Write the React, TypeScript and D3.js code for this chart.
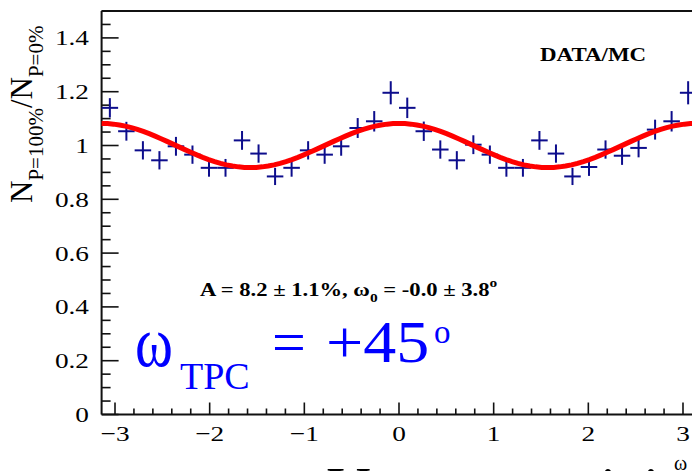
import React from "react";
import * as d3 from "d3";

// ---- data ----
const binCentersDeg = [
  -175, -165, -155, -145, -135, -125, -115, -105, -95, -85, -75, -65,
  -55, -45, -35, -25, -15, -5, 5, 15, 25, 35, 45, 55, 65, 75, 85, 95,
  105, 115, 125, 135, 145, 155, 165, 175,
];
const ratioValues = [
  1.14, 1.053, 0.982, 0.945, 0.997, 0.966, 0.917, 0.917, 1.019, 0.97, 0.885, 0.917,
  0.982, 0.966, 0.997, 1.065, 1.09, 1.196, 1.14, 1.053, 0.985, 0.945, 1.003, 0.966,
  0.917, 0.917, 1.019, 0.97, 0.885, 0.92, 0.985, 0.962, 0.991, 1.059, 1.09, 1.196,
];
const ratioErrors = [
  0.036, 0.035, 0.034, 0.034, 0.035, 0.034, 0.033, 0.033, 0.035, 0.034, 0.032, 0.033,
  0.034, 0.034, 0.035, 0.037, 0.038, 0.043, 0.038, 0.036, 0.034, 0.034, 0.035, 0.034,
  0.033, 0.033, 0.035, 0.034, 0.032, 0.033, 0.034, 0.034, 0.035, 0.037, 0.038, 0.043,
];
const fitAmplitude = 0.082; // A = 8.2 %
const fitOmega0 = 0.0; // omega_0
const xMajorTicks = [-3, -2, -1, 0, 1, 2, 3];
const yMajorTicks = [0, 0.2, 0.4, 0.6, 0.8, 1, 1.2, 1.4];
const yTickLabels = ["0", "0.2", "0.4", "0.6", "0.8", "1", "1.2", "1.4"];
const xTickLabels = ["\u22123", "\u22122", "\u22121", "0", "1", "2", "3"];

const W = 692;
const H = 471;
const STRETCH = 1.24;
const FONT = "Liberation Serif";
const BLUE_MARK = "#0d0d8c";

function st(size: number, extra: any = {}) {
  return { fontFamily: FONT, fontSize: size, ...extra };
}

function RText(props: {
  x: number;
  y: number;
  anchor?: string;
  size: number;
  bold?: boolean;
  children: React.ReactNode;
}) {
  const { x, y, anchor = "start", size, bold = false, children } = props;
  return (
    <g transform={`translate(${x},${y}) scale(${STRETCH},1)`}>
      <text
        x={0}
        y={0}
        style={st(size, { textAnchor: anchor, fontWeight: bold ? 700 : 400 })}
      >
        {children}
      </text>
    </g>
  );
}

export default function App() {
  const x = d3.scaleLinear().domain([-Math.PI, Math.PI]).range([101.6, 696.4]);
  const y = d3.scaleLinear().domain([0, 1.5]).range([414.5, 11]);

  const binHalf = (Math.PI / 180) * 5;
  const points = binCentersDeg.map((d, i) => ({
    x: (d * Math.PI) / 180,
    v: ratioValues[i],
    e: ratioErrors[i],
  }));

  const fitFn = (w: number) => 1 + fitAmplitude * Math.cos(2 * (w - fitOmega0));
  const samples = d3.range(0, 101).map((i) => -Math.PI + (i * 2 * Math.PI) / 100);
  const line = d3
    .line<number>()
    .x((w) => x(w))
    .y((w) => y(fitFn(w)));

  const xMinor = d3.range(-15, 16).map((i) => i * 0.2);
  const yMinor = d3.range(0, 31).map((i) => i * 0.05);

  const axisColor = "#111";
  const y0 = y(0);
  const xLeft = x(-Math.PI);

  return (
    <svg width={W} height={H} style={{ position: "fixed", left: 0, top: 0, background: "#fff" }}>
      {/* texts first */}
      {yMajorTicks.map((t, i) => (
        <RText key={"yl" + i} x={89} y={y(t) + 7.5} anchor="end" size={22}>
          {yTickLabels[i]}
        </RText>
      ))}
      {xMajorTicks.map((t, i) => (
        <RText key={"xl" + i} x={x(t)} y={441} anchor="middle" size={22}>
          {xTickLabels[i]}
        </RText>
      ))}

      <text transform="translate(32,203) rotate(-90)" style={st(31)}>
        N
        <tspan style={{ fontSize: 21 }} dy={11}>
          P=100%
        </tspan>
        <tspan dy={-11}>/N</tspan>
        <tspan style={{ fontSize: 21 }} dy={11}>
          P=0%
        </tspan>
      </text>

      <RText x={540} y={61} size={18.5} bold>
        DATA/MC
      </RText>
      <g transform="translate(200,296) scale(1.19,1)">
        <text style={st(19, { fontWeight: 700 })}>
          A = 8.2 ± 1.1%, ω
          <tspan style={{ fontSize: 13 }} dy={6}>
            0
          </tspan>
          <tspan dy={-6}> = -0.0 ± 3.8</tspan>
          <tspan style={{ fontSize: 13 }} dy={-9}>
            o
          </tspan>
        </text>
      </g>

      <g transform="translate(135,366) scale(0.8,1)">
        <text x={0} y={0} style={st(72, { fill: "#0000ff" })}>
          ω
        </text>
      </g>
      <text x={180} y={389} style={st(38, { fill: "#0000ff" })}>
        TPC
      </text>
      <text x={272} y={362} style={st(60, { fill: "#0000ff" })}>
        =
      </text>
      <g transform="translate(326,362) scale(1.1,1)">
        <text x={0} y={0} style={st(60, { fill: "#0000ff" })}>
          +45
        </text>
      </g>
      <text x={434} y={343} style={st(33, { fill: "#0000ff" })}>
        o
      </text>

      <text x={327} y={508} style={st(60)}>
        V
      </text>
      <text x={600} y={508} style={st(60)}>
        i
      </text>
      <text x={643} y={508} style={st(60)}>
        i
      </text>
      <text x={674} y={470} style={st(20)}>
        ω
      </text>

      {/* frame */}
      <line x1={xLeft} x2={W} y1={11} y2={11} stroke={axisColor} strokeWidth={2} />
      <line x1={xLeft} x2={xLeft} y1={11} y2={y0} stroke={axisColor} strokeWidth={2} />
      <line x1={xLeft} x2={W} y1={y0} y2={y0} stroke={axisColor} strokeWidth={2} />

      {yMinor.map((t, i) => {
        const major = Math.abs(t / 0.2 - Math.round(t / 0.2)) < 1e-6;
        return (
          <line
            key={"ym" + i}
            x1={xLeft}
            x2={xLeft + (major ? 17 : 9)}
            y1={y(t)}
            y2={y(t)}
            stroke={axisColor}
            strokeWidth={1.6}
          />
        );
      })}
      {xMinor.map((t, i) => {
        const major = Math.abs(t - Math.round(t)) < 1e-6;
        return (
          <line
            key={"xm" + i}
            x1={x(t)}
            x2={x(t)}
            y1={y0}
            y2={y0 - (major ? 12 : 6)}
            stroke={axisColor}
            strokeWidth={1.6}
          />
        );
      })}

      {/* data crosses */}
      {points.map((p, i) => (
        <g key={"p" + i} stroke={BLUE_MARK} strokeWidth={2}>
          <line x1={x(p.x - binHalf)} x2={x(p.x + binHalf)} y1={y(p.v)} y2={y(p.v)} />
          <line x1={x(p.x)} x2={x(p.x)} y1={y(p.v - p.e)} y2={y(p.v + p.e)} />
        </g>
      ))}

      {/* fit */}
      <path d={line(samples) || ""} fill="none" stroke="#ff0000" strokeWidth={5} />
    </svg>
  );
}
